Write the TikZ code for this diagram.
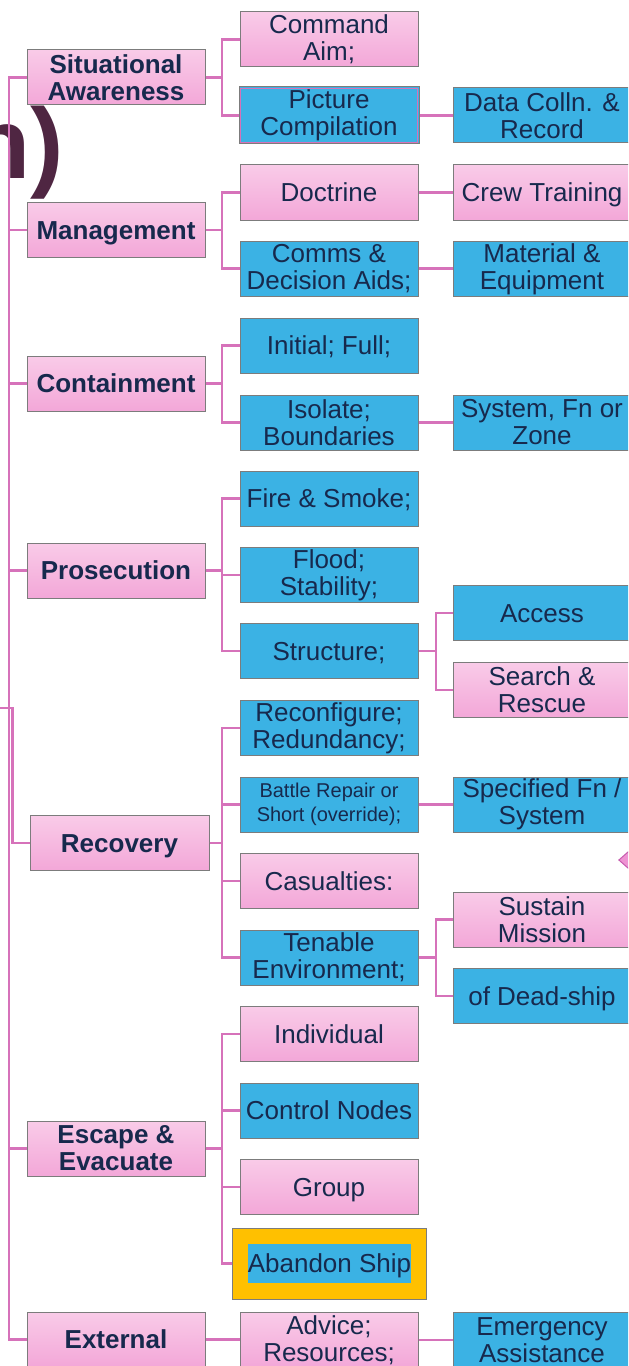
\documentclass[tikz,border=0pt]{standalone}
\usepackage{fontspec}
\setmainfont{Liberation Sans}
\usetikzlibrary{shapes.geometric}

\definecolor{ink}{HTML}{17294D}
\definecolor{pinktop}{HTML}{F9CBE8}
\definecolor{pinkbot}{HTML}{F3A7D8}
\definecolor{skyblue}{HTML}{3BB2E4}
\definecolor{boxline}{HTML}{7C7C7C}
\definecolor{linkpink}{HTML}{D672BA}
\definecolor{gold}{HTML}{FFC000}
\definecolor{plum}{HTML}{4F2642}
\definecolor{markfill}{HTML}{EE93D2}
\definecolor{markedge}{HTML}{C65BAE}

\begin{document}
\begin{tikzpicture}[x=0.75pt,y=-0.75pt,
  box/.style={draw=boxline, line width=0.75pt, minimum width=133.5pt,
    minimum height=41.25pt, inner sep=0pt, align=center, text=ink,
    font=\fontsize{19.5pt}{20.25pt}\selectfont},
  oneline/.style={text height=17.6pt, text depth=4.1pt},
  pinkbox/.style={box, top color=pinktop, bottom color=pinkbot},
  bluebox/.style={box, fill=skyblue},
  topic/.style={pinkbox, font=\bfseries\fontsize{19.5pt}{20.25pt}\selectfont},
  smalltext/.style={font=\fontsize{15pt}{18pt}\selectfont},
  link/.style={draw=linkpink, line width=2pt}]

\useasboundingbox (0,0) rectangle (628,1366);
\clip (0,0) rectangle (628,1366);

% trunk and branch columns
\coordinate (tA) at (9,0);
\coordinate (tB) at (12.5,0);
\coordinate (root) at (-20,708);
\coordinate (bA) at (222,0);
\coordinate (bB) at (436,0);

% title fragment
\node[anchor=base east, inner sep=0pt, text=plum,
  font=\bfseries\fontsize{75pt}{75pt}\selectfont] (title) at (64,178) {n)};

% first level
\node[topic] (sa)  at (116,77.5) {Situational\\Awareness};
\node[topic, oneline] (mg)  at (116,230) {Management};
\node[topic, oneline] (ct)  at (116,383.5) {Containment};
\node[topic, oneline] (pr)  at (116,570.5) {Prosecution};
\node[topic, oneline, minimum width=134.25pt] (rc) at (119.5,843) {Recovery};
\node[topic] (ee)  at (116,1148.5) {Escape \&\\Evacuate};
\node[topic, oneline] (ex)  at (116,1339.5) {External};

% second level
\node[pinkbox] (cmd) at (329,39.5) {Command\\Aim;};
\node[bluebox, minimum width=135pt, minimum height=42.75pt] (pc) at (329,115.5) {Picture\\Compilation};
\draw[linkpink, line width=0.8pt] ([xshift=1.4pt,yshift=-1.4pt]pc.north west) rectangle ([xshift=-1.4pt,yshift=1.4pt]pc.south east);
\node[pinkbox, oneline] (doc) at (329,192.5) {Doctrine};
\node[bluebox] (cda) at (329,268.5) {Comms \&\\Decision Aids;};
\node[bluebox, oneline] (ini) at (329,345.5) {Initial; Full;};
\node[bluebox] (iso) at (329,422.5) {Isolate;\\Boundaries};
\node[bluebox, oneline] (fir) at (329,498.5) {Fire \& Smoke;};
\node[bluebox] (flo) at (329,575) {Flood;\\Stability;};
\node[bluebox, oneline] (str) at (329,651) {Structure;};
\node[bluebox] (rec) at (329,728) {Reconfigure;\\Redundancy;};
\node[bluebox, smalltext] (bat) at (329,804.5) {Battle Repair or\\Short (override);};
\node[pinkbox, oneline] (cas) at (329,881) {Casualties:};
\node[bluebox] (ten) at (329,957.5) {Tenable\\Environment;};
\node[pinkbox, oneline] (ind) at (329,1034) {Individual};
\node[bluebox, oneline] (cn)  at (329,1110.5) {Control Nodes};
\node[pinkbox, oneline] (grp) at (329,1187) {Group};
\node[box, fill=gold, minimum width=145.5pt, minimum height=53.25pt] (ab) at (329,1263.5) {};
\node[fill=skyblue, text=ink, inner sep=0pt, minimum width=122.25pt, minimum height=29.25pt,
  text height=17.6pt, text depth=4.1pt,
  font=\fontsize{19.5pt}{20.25pt}\selectfont] (abt) at (329.5,1263.5) {Abandon Ship};
\node[pinkbox] (adv) at (329,1340) {Advice;\\Resources;};

% third level
\node[bluebox] (dcr) at (542,115.5) {Data Colln. \&\\Record};
\node[pinkbox, oneline] (crt) at (542,192.5) {Crew Training};
\node[bluebox] (meq) at (542,269) {Material \&\\Equipment};
\node[bluebox] (sfz) at (542,422.5) {System, Fn or\\Zone};
\node[bluebox, oneline] (acc) at (542,613) {Access};
\node[pinkbox] (snr) at (542,690) {Search \&\\Rescue};
\node[bluebox] (sfs) at (542,804.5) {Specified Fn /\\System};
\node[pinkbox] (sus) at (542,919.5) {Sustain\\Mission};
\node[bluebox, oneline] (dds) at (542,996) {of Dead-ship};
\node[bluebox] (ema) at (542,1340) {Emergency\\Assistance};

% marker at the right edge
\node[diamond, draw=markedge, fill=markfill, line width=0.75pt, inner sep=0pt,
  minimum width=17pt, minimum height=15pt] (mark) at (630,860) {};

% trunk on the left
\draw[link] (sa.west) -- (sa.west -| tA) -- (ex.west -| tA) -- (ex.west);
\foreach \t in {mg,ct,pr,ee} \draw[link] (\t.west -| tA) -- (\t.west);
\draw[link] (root) -- (root -| tB) |- (rc.west);

% first to second level
\foreach \p/\c in {sa/cmd, sa/pc, mg/doc, mg/cda, ct/ini, ct/iso,
    pr/fir, pr/flo, pr/str, rc/rec, rc/bat, rc/cas, rc/ten,
    ee/ind, ee/cn, ee/grp, ee/ab}
  \draw[link] (\p.east) -- (\p.east -| bA) |- (\c.west);
\draw[link] (ex.east) -- (ex.east -| adv.west);

% second to third level
\draw[link] (pc.east) -- (dcr.west);
\draw[link] (doc.east) -- (crt.west);
\draw[link] (cda.east) -- (cda.east -| meq.west);
\draw[link] (iso.east) -- (sfz.west);
\draw[link] (bat.east) -- (sfs.west);
\draw[link] (adv.east) -- (ema.west);
\foreach \p/\c in {str/acc, str/snr, ten/sus, ten/dds}
  \draw[link] (\p.east) -- (\p.east -| bB) |- (\c.west);

\end{tikzpicture}
\end{document}
